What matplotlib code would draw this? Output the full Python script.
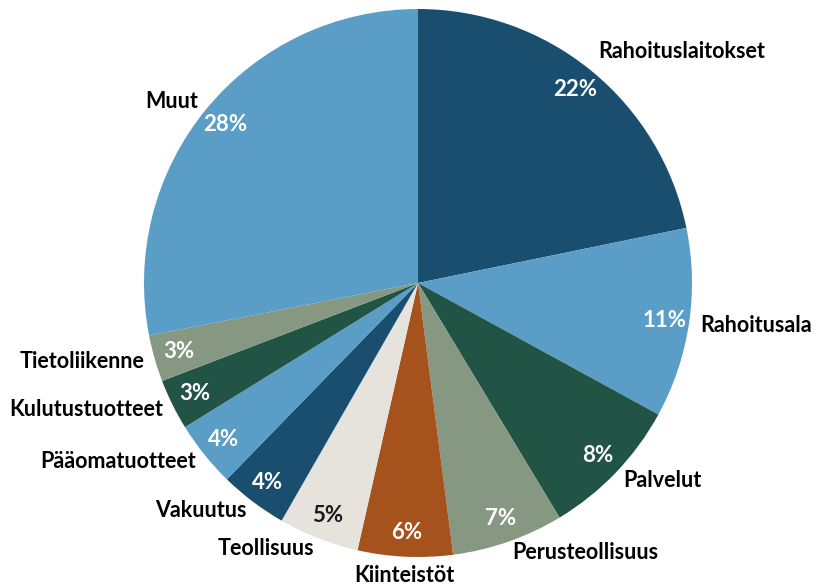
import matplotlib
matplotlib.use("Agg")
import matplotlib.pyplot as plt

# sector shares (%), clockwise from 12 o'clock
sectors = ["Rahoituslaitokset", "Rahoitusala", "Palvelut", "Perusteollisuus",
           "Kiinteistöt", "Teollisuus", "Vakuutus", "Pääomatuotteet",
           "Kulutustuotteet", "Tietoliikenne", "Muut"]
shares = [21.8, 11.2, 8.4, 6.6, 5.6, 4.75, 4.0, 3.9, 3.0, 2.75, 28.1]

colors = ["#1a4e6f", "#5a9ec8", "#225446", "#869882", "#a5521c", "#e6e2dc",
          "#1a4e6f", "#5a9ec8", "#225446", "#869882", "#5a9ec8"]

plt.rcParams['font.family'] = ['Lato', 'DejaVu Sans']

fig = plt.figure(figsize=(8.15, 5.86), dpi=100)
ax = fig.add_axes([0, 0, 1, 1])

R = 274.0
cx, cy = 418.0, 283.0
W, H = 815.0, 586.0

wedges, texts, autotexts = ax.pie(
    shares, labels=sectors, colors=colors, startangle=90, counterclock=False,
    autopct=lambda p: "%.0f%%" % p, pctdistance=0.91, labeldistance=1.04,
    wedgeprops=dict(linewidth=0),
    textprops=dict(fontsize=15.5, fontweight='bold', color='black'))

for t in autotexts:
    t.set_color('white')
    t.set_fontsize(16)
autotexts[5].set_color('#1a1a1a')
texts[4].set_ha('center')
# first label sits a bit higher in the original
x0, y0 = texts[0].get_position()
texts[0].set_position((x0, y0 + 0.04))
x4, y4 = texts[4].get_position()
texts[4].set_position((x4, y4 - 0.03))

ax.set_xlim(-cx / R, (W - cx) / R)
ax.set_ylim(-(H - cy) / R, cy / R)
ax.set_aspect('auto')
ax.axis('off')

fig.savefig("out.png", dpi=100)
